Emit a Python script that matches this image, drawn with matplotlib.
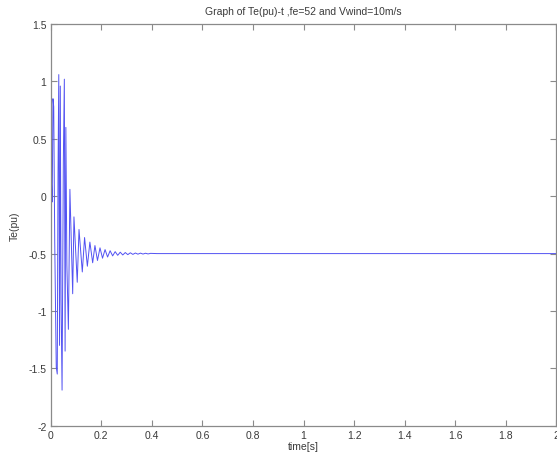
import matplotlib
matplotlib.use("Agg")
import matplotlib.pyplot as plt

# Electromagnetic torque Te (pu) versus time: turning points of the transient,
# followed by the settled value out to the end of the run.
time_s = [0.000, 0.003, 0.006, 0.009, 0.012, 0.016, 0.022, 0.026, 0.029, 0.032,
          0.035, 0.038, 0.041, 0.045, 0.050, 0.054, 0.057, 0.060, 0.064, 0.070,
          0.076, 0.087, 0.092, 0.105, 0.112, 0.125, 0.134, 0.145, 0.155, 0.166,
          0.175, 0.185, 0.195, 0.205, 0.215, 0.225, 0.235, 0.245, 0.255, 0.265,
          0.275, 0.285, 0.295, 0.305, 0.315, 0.325, 0.335, 0.345, 0.355, 0.365,
          0.375, 0.385, 0.395, 0.420, 2.000]
te_pu = [0.00, 0.12, -0.05, 0.85, 0.78, -0.40, -1.49, -1.55, 0.20, 1.06,
         -1.30, 0.96, -0.90, -1.69, 0.30, 1.02, -1.35, 0.60, -0.60, -1.16,
         0.06, -0.85, -0.18, -0.75, -0.29, -0.66, -0.36, -0.61, -0.40, -0.58,
         -0.43, -0.56, -0.45, -0.54, -0.465, -0.53, -0.475, -0.52, -0.483, -0.515,
         -0.488, -0.512, -0.491, -0.509, -0.493, -0.507, -0.495, -0.505, -0.496, -0.504,
         -0.497, -0.503, -0.498, -0.500, -0.500]

x_ticks = [0, 0.2, 0.4, 0.6, 0.8, 1.0, 1.2, 1.4, 1.6, 1.8, 2.0]
x_tick_labels = ["0", "0.2", "0.4", "0.6", "0.8", "1", "1.2", "1.4", "1.6", "1.8", "2"]
y_ticks = [-2, -1.5, -1, -0.5, 0, 0.5, 1, 1.5]
y_tick_labels = ["-2", "-1.5", "-1", "-0.5", "0", "0.5", "1", "1.5"]

plt.rcParams["font.family"] = ["Liberation Sans", "DejaVu Sans"]

fig = plt.figure(figsize=(5.57, 4.60), dpi=100)
ax = fig.add_axes([0.091, 0.0724, 0.908, 0.873])

ax.plot(time_s, te_pu, color="#5252f2", linewidth=0.7)

ax.set_xlim(0, 2)
ax.set_ylim(-2, 1.5)
ax.set_xticks(x_ticks)
ax.set_xticklabels(x_tick_labels)
ax.set_yticks(y_ticks)
ax.set_yticklabels(y_tick_labels)

edge = "#8a8a8a"
for s in ax.spines.values():
    s.set_color(edge)
    s.set_linewidth(0.9)
ax.tick_params(direction="in", length=4, width=0.8, color=edge,
               labelsize=7.5, labelcolor="#3a3a3a",
               top=True, right=True, pad=3)

ax.set_title("Graph of Te(pu)-t ,fe=52 and Vwind=10m/s", fontsize=7.5,
             color="#3a3a3a", pad=7)
ax.set_xlabel("time[s]", fontsize=7.5, color="#3a3a3a", labelpad=1)
ax.set_ylabel("Te(pu)", fontsize=7.5, color="#3a3a3a", labelpad=6)

fig.savefig("out.png", dpi=100)
